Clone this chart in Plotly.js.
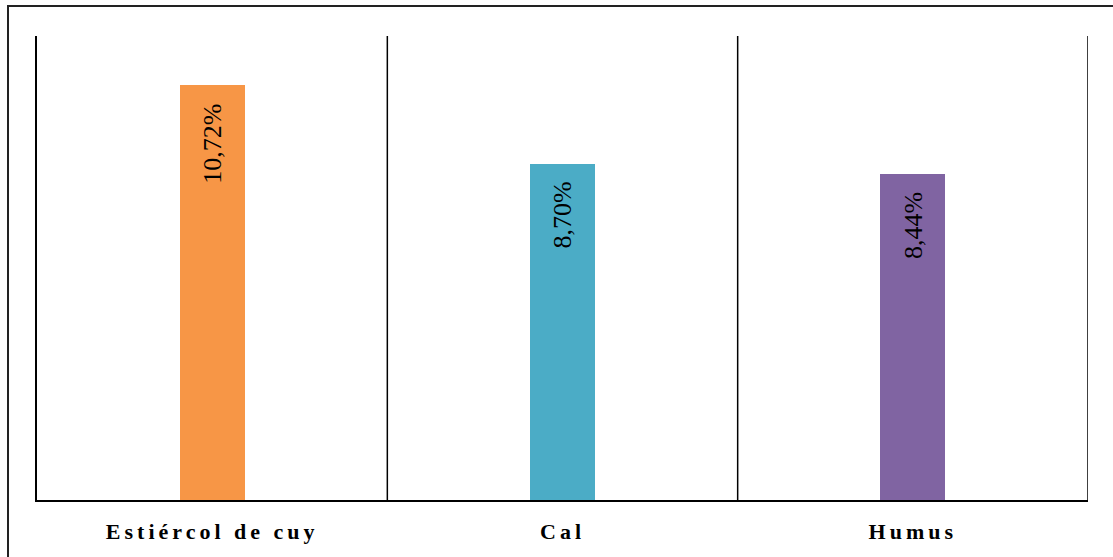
<!DOCTYPE html>
<html><head><meta charset="utf-8">
<script src="https://cdn.plot.ly/plotly-3.0.1.min.js"></script>
<style>
html,body{margin:0;padding:0;background:#fff;overflow:hidden;}
#wrap{position:relative;width:1113px;height:557px;overflow:hidden;}
#chart{position:absolute;left:0;top:0;width:1113px;height:557px;}
#frame{position:absolute;left:7px;top:5px;width:1120px;height:570px;border:2px solid #222;box-sizing:border-box;pointer-events:none;}
.xtick text{letter-spacing:4px;}
</style></head>
<body><div id="wrap"><div id="chart"></div><div id="frame"></div></div>
<script>
const categories = ["Estiércol de cuy", "Cal", "Humus"];
const values = [10.72, 8.70, 8.44];
const labels = ["10,72%", "8,70%", "8,44%"];
const colors = ["#F79646", "#4BACC6", "#8064A2"];

const trace = {
  type: "bar",
  x: categories,
  y: values,
  width: 0.186,
  marker: {color: colors, line: {width: 0}},
  hoverinfo: "none"
};

const shapes = [0.5, 1.5, 2.5].map(v => ({
  type: "line", xref: "x", yref: "paper", x0: v, x1: v, y0: 0, y1: 1,
  line: {color: "#000", width: 1.5}
}));

const annotations = categories.map((c, i) => ({
  x: c, y: values[i], xref: "x", yref: "y",
  text: labels[i], showarrow: false, textangle: -90,
  xanchor: "center", yanchor: "top", yshift: -16,
  font: {family: "Liberation Serif, Times New Roman, serif", size: 26, color: "#000"}
}));

const layout = {
  width: 1113, height: 557,
  margin: {l: 37, r: 25, t: 36, b: 57},
  paper_bgcolor: "rgba(0,0,0,0)", plot_bgcolor: "#fff",
  showlegend: false,
  bargap: 0,
  xaxis: {
    type: "category", range: [-0.5, 2.5],
    showline: true, linecolor: "#000", linewidth: 2,
    showgrid: false, zeroline: false, ticks: "",
    tickfont: {family: "Liberation Serif, Times New Roman, serif", size: 22, color: "#000", weight: "bold"},
    ticklabelstandoff: 11
  },
  yaxis: {
    range: [0, 12], showline: true, linecolor: "#000", linewidth: 2,
    showgrid: false, zeroline: false, showticklabels: false, ticks: ""
  },
  shapes: shapes,
  annotations: annotations
};

Plotly.newPlot("chart", [trace], layout, {displayModeBar: false, staticPlot: true});
</script></body></html>
